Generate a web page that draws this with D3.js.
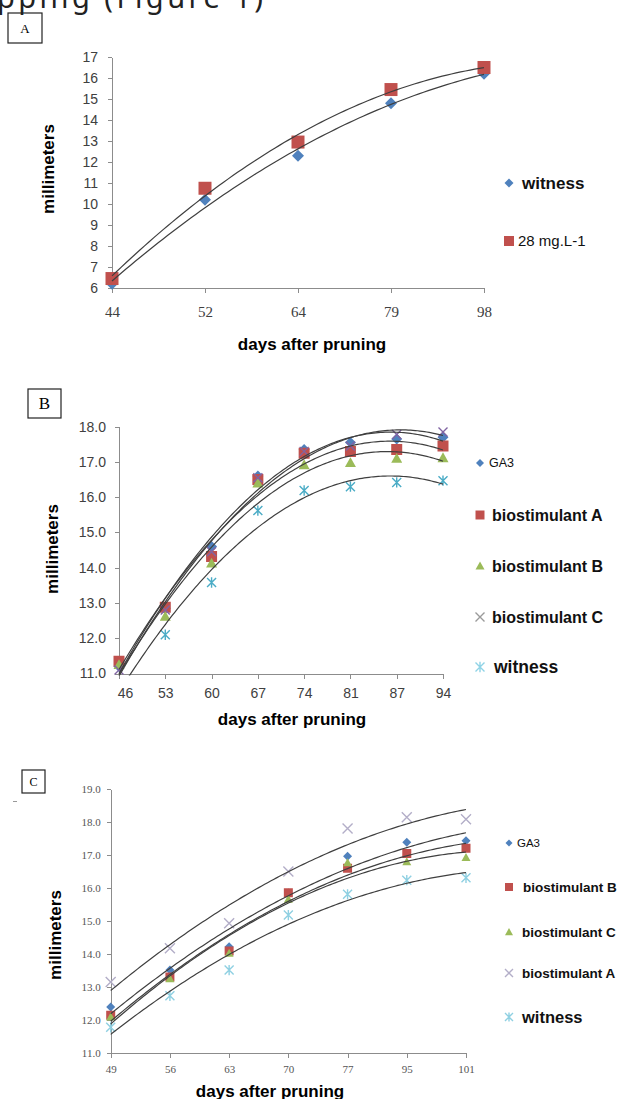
<!DOCTYPE html>
<html lang="en">
<head>
<meta charset="utf-8">
<title>Diameter growth after pruning: panels A, B, C</title>
<script src="https://d3js.org/d3.v7.min.js"></script>
<style>
  body { margin: 0; background: #fff; }
  svg { display: block; }
  .axis path, .axis line { stroke: #8c8c8c; shape-rendering: crispEdges; }
  .trend { fill: none; stroke: #3f3f3f; stroke-width: 1.2; }
</style>
</head>
<body>
<script>
// ---- panel A
var catsA = ["44", "52", "64", "79", "98"];
var yTicksA = [6, 7, 8, 9, 10, 11, 12, 13, 14, 15, 16, 17];
var witnessA = [6.2, 10.2, 12.3, 14.8, 16.2];
var dose28A = [6.45, 10.75, 12.95, 15.45, 16.5];

// ---- panel B
var catsB = ["46", "53", "60", "67", "74", "81", "87", "94"];
var yTicksB = [11, 12, 13, 14, 15, 16, 17, 18];
var ga3B = [11.2, 12.85, 14.6, 16.6, 17.35, 17.55, 17.65, 17.7];
var bioA_B = [11.35, 12.88, 14.32, 16.5, 17.25, 17.3, 17.35, 17.45];
var bioB_B = [11.25, 12.62, 14.13, 16.4, 16.92, 16.98, 17.1, 17.12];
var bioC_B = [11.1, 12.8, 14.45, 16.55, 17.3, 17.45, 17.78, 17.85];
var witnessB = [10.7, 12.1, 13.58, 15.62, 16.19, 16.3, 16.42, 16.47];

// ---- panel C
var catsC = ["49", "56", "63", "70", "77", "95", "101"];
var yTicksC = [11, 12, 13, 14, 15, 16, 17, 18, 19];
var ga3C = [12.39, 13.51, 14.22, 15.85, 16.97, 17.39, 17.44];
var bioB_C = [12.14, 13.3, 14.09, 15.86, 16.6, 17.05, 17.21];
var bioC_C = [12.09, 13.25, 14.02, 15.66, 16.77, 16.8, 16.93];
var bioA_C = [13.15, 14.17, 14.93, 16.5, 17.81, 18.15, 18.09];
var witnessC = [11.77, 12.73, 13.51, 15.18, 15.81, 16.24, 16.31];

var blue = "#4f81bd", red = "#c0504d", green = "#9bbb59", purple = "#8064a2", cyan = "#4bacc6";
var sans = "'Liberation Sans', Arial, sans-serif";
var serif = "'Liberation Serif', 'Times New Roman', serif";

var svg = d3.select("body").append("svg")
  .attr("width", 624)
  .attr("height", 1099);

// cut-off caption line at the very top of the page
svg.append("text")
  .attr("x", -3).attr("y", 8)
  .attr("font-family", "'Noto Sans', sans-serif")
  .attr("font-size", 29)
  .attr("textLength", 266)
  .attr("fill", "#222")
  .text("pping (Figure 1)");

// least squares polynomial of order 2 (Excel style trendline, x = 1..n)
function det3(a) {
  return a[0][0] * (a[1][1] * a[2][2] - a[1][2] * a[2][1])
       - a[0][1] * (a[1][0] * a[2][2] - a[1][2] * a[2][0])
       + a[0][2] * (a[1][0] * a[2][1] - a[1][1] * a[2][0]);
}
function quadFit(ys) {
  var s = [0, 0, 0, 0, 0], t = [0, 0, 0];
  ys.forEach(function(v, i) {
    var x = i + 1;
    for (var k = 0; k < 5; k++) s[k] += Math.pow(x, k);
    for (k = 0; k < 3; k++) t[k] += v * Math.pow(x, k);
  });
  var m = [[s[0], s[1], s[2]], [s[1], s[2], s[3]], [s[2], s[3], s[4]]];
  var d = det3(m);
  var c = [0, 1, 2].map(function(col) {
    var mm = m.map(function(row, r) {
      return row.map(function(v, j) { return j === col ? t[r] : v; });
    });
    return det3(mm) / d;
  });
  return function(x) { return c[0] + c[1] * x + c[2] * x * x; };
}

// excel-like marker shapes
function markerPath(shape, r) {
  if (shape === "diamond") return "M0," + (-r) + "L" + r + ",0L0," + r + "L" + (-r) + ",0Z";
  if (shape === "square") return "M" + (-r) + "," + (-r) + "h" + 2 * r + "v" + 2 * r + "h" + (-2 * r) + "Z";
  if (shape === "triangle") return "M0," + (-r) + "L" + r + "," + (r * 0.8) + "L" + (-r) + "," + (r * 0.8) + "Z";
  var x = "M" + (-r) + "," + (-r) + "L" + r + "," + r + "M" + (-r) + "," + r + "L" + r + "," + (-r);
  if (shape === "times") return x;
  return x + "M0," + (-r * 1.15) + "L0," + (r * 1.15); // asterisk
}
function isStroked(shape) { return shape === "times" || shape === "asterisk"; }

function drawMarker(g, shape, color, r) {
  g.append("path")
    .attr("d", markerPath(shape, r))
    .attr("fill", isStroked(shape) ? "none" : color)
    .attr("stroke", isStroked(shape) ? color : "none")
    .attr("stroke-width", 1.4);
}

var panels = [
  {
    id: "A", box: [8, 13, 34, 30], boxFont: 13,
    left: 112, right: 484, top: 57, bottom: 288,
    cats: catsA, yTicks: yTicksA, yDomain: [6, 17], yFormat: d3.format("d"),
    yFont: [sans, 14, "#404040"], yPad: 10,
    xFont: [serif, 15, "#404040"], xPad: 13,
    xTitle: [312, 350, 17], yTitle: [54, 169, 17],
    series: [
      { name: "witness", values: witnessA, shape: "diamond", color: blue, r: 6 },
      { name: "28 mg.L-1", values: dose28A, shape: "square", color: red, r: 6.5 }
    ],
    legend: [
      { x: 509, y: 183, tx: 522, r: 4.5, font: [700, 17] },
      { x: 509, y: 241, tx: 518, r: 5, font: [400, 15] }
    ]
  },
  {
    id: "B", box: [28, 389, 33, 29], boxFont: 17,
    left: 119, right: 443, top: 426.7, bottom: 673.5,
    cats: catsB, yTicks: yTicksB, yDomain: [11, 18], yFormat: d3.format(".1f"),
    yFont: [sans, 14, "#404040"], yPad: 9, firstDx: 6,
    xFont: [sans, 14, "#404040"], xPad: 10,
    xTitle: [292, 725, 17], yTitle: [58, 549, 17],
    series: [
      { name: "GA3", values: ga3B, shape: "diamond", color: blue, r: 5.5 },
      { name: "biostimulant A", values: bioA_B, shape: "square", color: red, r: 5.5 },
      { name: "biostimulant B", values: bioB_B, shape: "triangle", color: green, r: 5.5 },
      { name: "biostimulant C", values: bioC_B, shape: "times", color: purple, r: 4.5 },
      { name: "witness", values: witnessB, shape: "asterisk", color: cyan, r: 4.5 }
    ],
    legend: [
      { x: 480, y: 463, tx: 489, r: 4, font: [400, 12.5] },
      { x: 480, y: 515, tx: 492, r: 4.5, font: [700, 16] },
      { x: 480, y: 566, tx: 492, r: 4.5, font: [700, 16] },
      { x: 480, y: 617, tx: 492, r: 4.5, font: [700, 16], color: "#9a9a9a" },
      { x: 480, y: 667, tx: 494, r: 4.5, font: [700, 17.5], color: "#8fd3e6" }
    ]
  },
  {
    id: "C", box: [22, 770, 23, 23], boxFont: 12,
    left: 110.7, right: 466, top: 789.3, bottom: 1052.7,
    cats: catsC, yTicks: yTicksC, yDomain: [11, 19], yFormat: d3.format(".1f"),
    yFont: [serif, 11, "#555"], yPad: 6,
    xFont: [serif, 11, "#555"], xPad: 8,
    xTitle: [270, 1097, 17], yTitle: [61, 935, 17],
    series: [
      { name: "GA3", values: ga3C, shape: "diamond", color: blue, r: 4.5 },
      { name: "biostimulant B", values: bioB_C, shape: "square", color: red, r: 4.5 },
      { name: "biostimulant C", values: bioC_C, shape: "triangle", color: green, r: 4.5 },
      { name: "biostimulant A", values: bioA_C, shape: "times", color: "#b3aec8", r: 5 },
      { name: "witness", values: witnessC, shape: "asterisk", color: "#8fd0e2", r: 4.5 }
    ],
    legend: [
      { x: 509, y: 843, tx: 517, r: 3.5, font: [400, 11.5] },
      { x: 509, y: 887, tx: 523, r: 4, font: [700, 13.5] },
      { x: 509, y: 932, tx: 522, r: 4, font: [700, 13.5] },
      { x: 509, y: 973, tx: 522, r: 4, font: [700, 13.5] },
      { x: 509, y: 1017, tx: 522, r: 4, font: [700, 16.5] }
    ]
  }
];

function drawPanel(p) {
  var n = p.cats.length;
  var x = d3.scaleLinear().domain([0, n - 1]).range([p.left, p.right]);
  var y = d3.scaleLinear().domain(p.yDomain).range([p.bottom, p.top]);
  var g = svg.append("g").attr("class", "panel-" + p.id);

  // boxed panel letter
  g.append("rect")
    .attr("x", p.box[0]).attr("y", p.box[1])
    .attr("width", p.box[2]).attr("height", p.box[3])
    .attr("fill", "none").attr("stroke", "#222").attr("stroke-width", 1.2);
  g.append("text")
    .attr("x", p.box[0] + p.box[2] / 2).attr("y", p.box[1] + p.box[3] / 2)
    .attr("dy", "0.35em").attr("text-anchor", "middle")
    .attr("font-family", serif).attr("font-size", p.boxFont)
    .text(p.id);

  // axes
  var yAxis = g.append("g").attr("class", "axis")
    .attr("transform", "translate(" + p.left + ",0)")
    .call(d3.axisLeft(y).tickValues(p.yTicks).tickFormat(p.yFormat)
      .tickSize(4).tickSizeOuter(0).tickPadding(p.yPad));
  yAxis.selectAll("text")
    .attr("font-family", p.yFont[0]).attr("font-size", p.yFont[1]).attr("fill", p.yFont[2]);

  var xAxis = g.append("g").attr("class", "axis")
    .attr("transform", "translate(0," + p.bottom + ")")
    .call(d3.axisBottom(x).tickValues(d3.range(n)).tickFormat(function(i) { return p.cats[i]; })
      .tickSize(5).tickSizeOuter(0).tickPadding(p.xPad));
  xAxis.selectAll("text")
    .attr("font-family", p.xFont[0]).attr("font-size", p.xFont[1]).attr("fill", p.xFont[2]);
  if (p.firstDx) xAxis.select(".tick text").attr("dx", p.firstDx);
  xAxis.selectAll(".domain").attr("stroke", "#8c8c8c");
  yAxis.selectAll(".domain").attr("stroke", "#8c8c8c");

  // titles
  g.append("text")
    .attr("x", p.xTitle[0]).attr("y", p.xTitle[1])
    .attr("text-anchor", "middle")
    .attr("font-family", sans).attr("font-weight", 700).attr("font-size", p.xTitle[2])
    .text("days after pruning");
  g.append("text")
    .attr("transform", "translate(" + p.yTitle[0] + "," + p.yTitle[1] + ") rotate(-90)")
    .attr("text-anchor", "middle")
    .attr("font-family", sans).attr("font-weight", 700).attr("font-size", p.yTitle[2])
    .text("millimeters");

  // plot area clip
  svg.append("clipPath").attr("id", "clip" + p.id)
    .append("rect")
    .attr("x", p.left - 15).attr("y", p.top - 15)
    .attr("width", p.right - p.left + 30).attr("height", p.bottom - p.top + 17);
  var plot = g.append("g").attr("clip-path", "url(#clip" + p.id + ")");

  // markers
  p.series.forEach(function(s) {
    s.values.forEach(function(v, i) {
      var m = plot.append("g").attr("transform", "translate(" + x(i) + "," + y(v) + ")");
      drawMarker(m, s.shape, s.color, s.r);
    });
  });

  // polynomial trendlines
  var line = d3.line()
    .x(function(d) { return x(d[0]); })
    .y(function(d) { return y(d[1]); });
  p.series.forEach(function(s) {
    var f = quadFit(s.values);
    var pts = d3.range(0, n - 1 + 1e-9, 0.05).map(function(t) { return [t, f(t + 1)]; });
    plot.append("path").attr("class", "trend").attr("d", line(pts));
  });

  // legend
  p.series.forEach(function(s, i) {
    var L = p.legend[i];
    var m = g.append("g").attr("transform", "translate(" + L.x + "," + L.y + ")");
    drawMarker(m, s.shape, L.color || s.color, L.r);
    g.append("text")
      .attr("x", L.tx).attr("y", L.y).attr("dy", "0.35em")
      .attr("font-family", sans).attr("font-weight", L.font[0]).attr("font-size", L.font[1])
      .attr("fill", "#111")
      .text(s.name);
  });
}

panels.forEach(drawPanel);

// stray mark left of panel C
svg.append("line")
  .attr("x1", 13).attr("x2", 17).attr("y1", 801.5).attr("y2", 801.5)
  .attr("stroke", "#999").attr("stroke-width", 1);
</script>
</body>
</html>
